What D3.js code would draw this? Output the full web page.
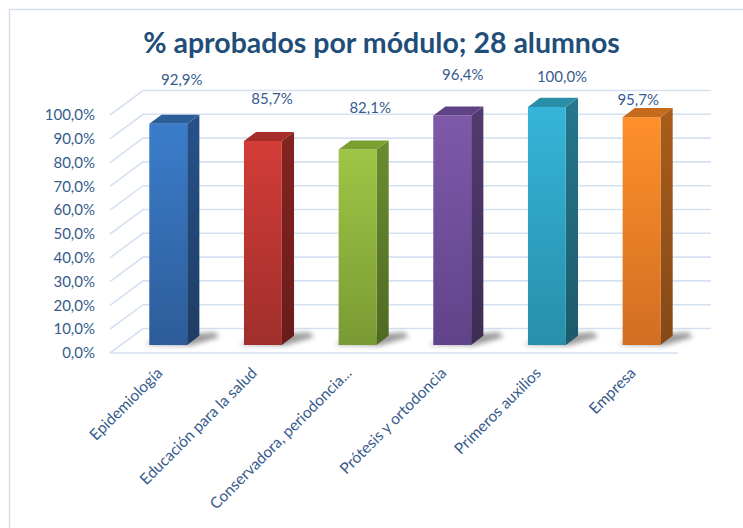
<!DOCTYPE html>
<html>
<head>
<meta charset="utf-8">
<script src="https://cdn.jsdelivr.net/npm/d3@7"></script>
<style>
  html, body { margin: 0; padding: 0; background: #ffffff; }
  svg { display: block; }
  text { font-family: Lato, "Noto Sans", "Liberation Sans", sans-serif; }
</style>
</head>
<body>
<svg id="chart" width="743" height="528"></svg>
<script>
// ---------- data ----------
const title = "% aprobados por módulo; 28 alumnos";
const categories = ["Epidemiología", "Educación para la salud", "Conservadora, periodoncia...", "Prótesis y ortodoncia", "Primeros auxilios", "Empresa"];
const values = [0.929, 0.857, 0.821, 0.964, 1.0, 0.957];
const yTickValues = [0, 0.1, 0.2, 0.3, 0.4, 0.5, 0.6, 0.7, 0.8, 0.9, 1.0];
const yTickLabels = ["0,0%", "10,0%", "20,0%", "30,0%", "40,0%", "50,0%", "60,0%", "70,0%", "80,0%", "90,0%", "100,0%"];
const valueLabels = ["92,9%", "85,7%", "82,1%", "96,4%", "100,0%", "95,7%"];

// ---------- styles / layout ----------
const palette = [
  { top: "#3b7dcb", bottom: "#2d5c99", sideTop: "#26528a", sideBottom: "#1e3d64", cap: "#2c5f9a" },
  { top: "#d33c37", bottom: "#a02f2c", sideTop: "#832421", sideBottom: "#691c1b", cap: "#a52d2a" },
  { top: "#9ec645", bottom: "#799a34", sideTop: "#6c8c2e", sideBottom: "#4e6a22", cap: "#7aa032" },
  { top: "#7e59a9", bottom: "#614389", sideTop: "#523b70", sideBottom: "#3d2c55", cap: "#5e4285" },
  { top: "#36b4d9", bottom: "#278fa9", sideTop: "#24788d", sideBottom: "#1c5a6b", cap: "#2a8ea8" },
  { top: "#fe902b", bottom: "#d26e22", sideTop: "#a95d1a", sideBottom: "#864816", cap: "#c66a1e" }
];
// manual nudges of the value labels (layout, not data)
const labelNudge = [[8, -40], [3.5, -38], [7, -38], [5, -37], [9.5, -26], [-9, -13]];

const svg = d3.select("#chart");
const textColor = "#375b8c";
const gridColor = "#d5e1f1";

const plot = { left: 110, right: 678, floorY: 353, topY: 115 };
const depth = { dx: 33, dy: 24.5 };
const zFront = 0.33, zBack = 0.70;

const x = d3.scaleBand().domain(categories).range([plot.left, plot.right]).paddingInner(0.6).paddingOuter(0.3);
const y = d3.scaleLinear().domain([0, 1]).range([plot.floorY, plot.topY]);
const proj = (xs, v, z) => [xs + z * depth.dx, y(v) - z * depth.dy];
const line = d3.line();

// border of chart area
svg.append("rect").attr("x", 9.5).attr("y", 9.5).attr("width", 900).attr("height", 700)
  .attr("fill", "none").attr("stroke", "#d6e0ec").attr("stroke-width", 1.5);

// defs
const defs = svg.append("defs");
palette.forEach((p, i) => {
  const gf = defs.append("linearGradient").attr("id", "gf" + i).attr("x1", 0).attr("y1", 0).attr("x2", 0).attr("y2", 1);
  gf.append("stop").attr("offset", "0%").attr("stop-color", p.top);
  gf.append("stop").attr("offset", "100%").attr("stop-color", p.bottom);
  const gs = defs.append("linearGradient").attr("id", "gs" + i).attr("x1", 0).attr("y1", 0).attr("x2", 0).attr("y2", 1);
  gs.append("stop").attr("offset", "0%").attr("stop-color", p.sideTop);
  gs.append("stop").attr("offset", "100%").attr("stop-color", p.sideBottom);
});
const blur = defs.append("filter").attr("id", "blur").attr("x", "-50%").attr("y", "-50%").attr("width", "200%").attr("height", "200%");
blur.append("feGaussianBlur").attr("stdDeviation", 2.5);

// title
const titleText = svg.append("text")
  .attr("x", 381.5).attr("y", 53)
  .attr("text-anchor", "middle")
  .attr("fill", "#1f4e79")
  .attr("font-weight", 700)
  .attr("font-size", 24)
  .text(title);
const tw = titleText.node().getComputedTextLength();
titleText.attr("font-size", 24 * 477 / tw);

// gridlines: side wall diagonals + back wall horizontals
const grid = svg.append("g").attr("fill", "none").attr("stroke", gridColor).attr("stroke-width", 1.6);
yTickValues.forEach(t => {
  grid.append("path").attr("d", line([proj(plot.left, t, 0), proj(plot.left, t, 1), proj(plot.right, t, 1)]));
});
// floor front edge
grid.append("path").attr("d", line([proj(plot.left, 0, 0), proj(plot.right, 0, 0)]));

// y-axis tick labels
svg.append("g").selectAll("text").data(yTickValues).join("text")
  .attr("x", plot.left - 15)
  .attr("y", d => y(d))
  .attr("dy", "0.35em")
  .attr("text-anchor", "end")
  .attr("font-size", 15)
  .attr("fill", textColor)
  .text((d, i) => yTickLabels[i]);

// bars
const bars = svg.append("g").selectAll("g").data(categories).join("g");
// shadows
bars.append("path")
  .attr("d", (c, i) => {
    const xl = x(c), xr = xl + x.bandwidth();
    return line([proj(xl - 5, 0, zFront + 0.02), proj(xr + 4, 0, zFront - 0.02), proj(xr + 22, 0, zBack - 0.05), proj(xr + 10, 0, zBack + 0.15), proj(xl + 5, 0, zBack)]) + "Z";
  })
  .attr("fill", "#4a4a4a").attr("opacity", 0.55).attr("filter", "url(#blur)");
// side face
bars.append("path")
  .attr("d", (c, i) => {
    const xr = x(c) + x.bandwidth(), v = values[i];
    return line([proj(xr, 0, zFront), proj(xr, 0, zBack), proj(xr, v, zBack), proj(xr, v, zFront)]) + "Z";
  })
  .attr("fill", (c, i) => `url(#gs${i})`);
// front face
bars.append("path")
  .attr("d", (c, i) => {
    const xl = x(c), xr = xl + x.bandwidth(), v = values[i];
    return line([proj(xl, 0, zFront), proj(xr, 0, zFront), proj(xr, v, zFront), proj(xl, v, zFront)]) + "Z";
  })
  .attr("fill", (c, i) => `url(#gf${i})`);
// top face
bars.append("path")
  .attr("d", (c, i) => {
    const xl = x(c), xr = xl + x.bandwidth(), v = values[i];
    return line([proj(xl, v, zFront), proj(xr, v, zFront), proj(xr, v, zBack), proj(xl, v, zBack)]) + "Z";
  })
  .attr("fill", (c, i) => palette[i].cap);

// value labels
svg.append("g").selectAll("text").data(categories).join("text")
  .attr("x", (c, i) => proj(x(c) + x.bandwidth() / 2, values[i], 0.5)[0] + labelNudge[i][0])
  .attr("y", (c, i) => proj(x(c) + x.bandwidth() / 2, values[i], 0.5)[1] + labelNudge[i][1])
  .attr("dy", "0.35em")
  .attr("text-anchor", "middle")
  .attr("font-size", 15)
  .attr("fill", textColor)
  .text((c, i) => valueLabels[i]);

// category labels (rotated)
svg.append("g").selectAll("text").data(categories).join("text")
  .attr("transform", c => `translate(${x(c) + x.bandwidth() / 2 + 6},${plot.floorY + 21}) rotate(-45)`)
  .attr("text-anchor", "end")
  .attr("font-size", 15.5)
  .attr("fill", textColor)
  .text(c => c);
</script>
</body>
</html>
